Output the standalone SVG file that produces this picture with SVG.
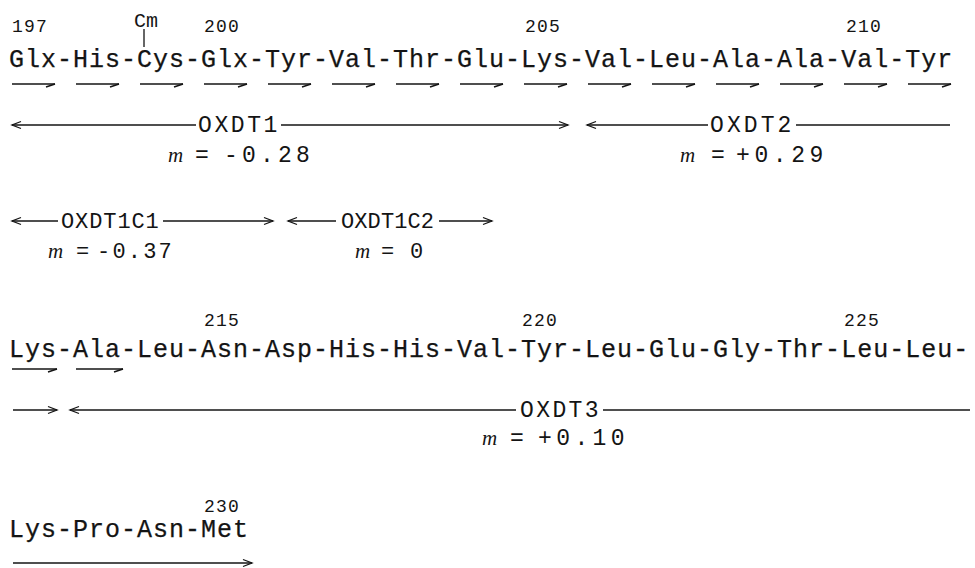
<svg xmlns="http://www.w3.org/2000/svg" width="975" height="568" viewBox="0 0 975 568">
  <defs>
    <style>
      .seq { font-family: "Liberation Mono", "DejaVu Sans Mono", monospace; font-size: 25px; letter-spacing: 1px; fill: #141414; stroke: #141414; stroke-width: 0.25; }
      .num { font-family: "Liberation Mono", "DejaVu Sans Mono", monospace; font-size: 18px; letter-spacing: 1.2px; fill: #141414; }
      .lab { font-family: "Liberation Mono", "DejaVu Sans Mono", monospace; font-size: 23px; fill: #141414; }
      .val { font-family: "Liberation Mono", "DejaVu Sans Mono", monospace; font-size: 23px; fill: #141414; }
      .mi { font-family: "Liberation Serif", "DejaVu Serif", serif; font-style: italic; font-size: 21px; fill: #141414; }
      .ln { stroke: #141414; stroke-width: 1.3; fill: none; }
      .hp { stroke: #141414; stroke-width: 1.5; fill: none; marker-end: url(#harpoon); }
      .ar { marker-end: url(#head); }
      .al { marker-start: url(#head); }
    </style>
    <!-- open arrowhead for the fragment spans -->
    <marker id="head" viewBox="-10 -5 12 10" refX="0" refY="0" markerWidth="12" markerHeight="10" markerUnits="userSpaceOnUse" orient="auto-start-reverse">
      <path d="M -9 -3.5 L 0 0 L -9 3.5" stroke="#141414" stroke-width="1.3" fill="none"/>
    </marker>
    <!-- half arrowhead for single residue steps -->
    <marker id="harpoon" viewBox="-10 -5 12 10" refX="0" refY="0" markerWidth="12" markerHeight="10" markerUnits="userSpaceOnUse" orient="auto">
      <path d="M -9 3 L 0 0" stroke="#141414" stroke-width="1.5" fill="none"/>
    </marker>
  </defs>

  <!-- residues 197-211 -->
  <g id="row1">
    <text class="num" x="12" y="32">197</text>
    <text class="num" x="204" y="32">200</text>
    <text class="num" x="525" y="32">205</text>
    <text class="num" x="846" y="32">210</text>
    <text class="num" x="134" y="27" style="font-size:20px;letter-spacing:0px">Cm</text>
    <text class="seq" x="9" y="67">Glx-His-Cys-Glx-Tyr-Val-Thr-Glu-Lys-Val-Leu-Ala-Ala-Val-Tyr</text>
  </g>

  <!-- fragment labels -->
  <g id="oxdt1">
    <text class="lab" x="198" y="132" style="letter-spacing:2.6px">OXDT1</text>
    <text class="mi" x="168" y="162">m</text>
    <text class="val" x="195" y="162">=</text>
    <text class="val" x="224" y="162" style="letter-spacing:4.2px">-0.28</text>
  </g>
  <g id="oxdt2">
    <text class="lab" x="710" y="132" style="letter-spacing:3.1px">OXDT2</text>
    <text class="mi" x="680" y="162">m</text>
    <text class="val" x="711" y="162">=</text>
    <text class="val" x="736" y="162" style="letter-spacing:4.6px">+0.29</text>
  </g>
  <g id="oxdt1c1">
    <text class="lab" x="61" y="228" style="font-size:22px;letter-spacing:0.9px">OXDT1C1</text>
    <text class="mi" x="48" y="258">m</text>
    <text class="val" x="76" y="258" style="font-size:22px">=</text>
    <text class="val" x="97" y="258" style="font-size:22px;letter-spacing:2.2px">-0.37</text>
  </g>
  <g id="oxdt1c2">
    <text class="lab" x="341" y="228" style="font-size:22px;letter-spacing:0.1px">OXDT1C2</text>
    <text class="mi" x="355" y="258">m</text>
    <text class="val" x="381" y="258" style="font-size:22px">=</text>
    <text class="val" x="410" y="258" style="font-size:22px">0</text>
  </g>

  <!-- residues 212-226 -->
  <g id="row3">
    <text class="num" x="204" y="326">215</text>
    <text class="num" x="522" y="326">220</text>
    <text class="num" x="844" y="326">225</text>
    <text class="seq" x="9" y="357">Lys-Ala-Leu-Asn-Asp-His-His-Val-Tyr-Leu-Glu-Gly-Thr-Leu-Leu-</text>
  </g>

  <g id="oxdt3">
    <text class="lab" x="520" y="417" style="letter-spacing:2.4px">OXDT3</text>
    <text class="mi" x="482" y="445">m</text>
    <text class="val" x="510" y="445">=</text>
    <text class="val" x="538" y="445" style="letter-spacing:4.4px">+0.10</text>
  </g>

  <!-- residues 227-230 -->
  <g id="row5">
    <text class="num" x="204" y="512">230</text>
    <text class="seq" x="9" y="537">Lys-Pro-Asn-Met</text>
  </g>

  <g id="connectors">
    <!-- Cm side chain bond -->
    <line class="ln" x1="144" y1="29" x2="144" y2="47"/>

    <!-- single residue steps, row 1 -->
    <path class="hp" d="M 12 84 H 55"/>
    <path class="hp" d="M 76 84 H 119"/>
    <path class="hp" d="M 140 84 H 183"/>
    <path class="hp" d="M 204 84 H 247"/>
    <path class="hp" d="M 268 84 H 311"/>
    <path class="hp" d="M 332 84 H 375"/>
    <path class="hp" d="M 396 84 H 439"/>
    <path class="hp" d="M 460 84 H 503"/>
    <path class="hp" d="M 524 84 H 567"/>
    <path class="hp" d="M 588 84 H 631"/>
    <path class="hp" d="M 652 84 H 695"/>
    <path class="hp" d="M 716 84 H 759"/>
    <path class="hp" d="M 780 84 H 823"/>
    <path class="hp" d="M 844 84 H 887"/>
    <path class="hp" d="M 908 84 H 951"/>

    <!-- single residue steps, row 3 -->
    <path class="hp" d="M 12 369 H 57"/>
    <path class="hp" d="M 76 369 H 123"/>

    <!-- OXDT1 -->
    <path class="ln al" d="M 12 125 H 196"/>
    <path class="ln ar" d="M 281 125 H 568"/>
    <!-- OXDT2 -->
    <path class="ln al" d="M 587 125 H 708"/>
    <path class="ln" d="M 796 125 H 950"/>
    <!-- OXDT1C1 -->
    <path class="ln al" d="M 12 221 H 58"/>
    <path class="ln ar" d="M 163 221 H 273"/>
    <!-- OXDT1C2 -->
    <path class="ln al" d="M 288 221 H 336"/>
    <path class="ln ar" d="M 439 221 H 492"/>
    <!-- end of OXDT2 -->
    <path class="ln ar" d="M 13 410 H 57"/>
    <!-- OXDT3 -->
    <path class="ln al" d="M 70 410 H 516"/>
    <path class="ln" d="M 603 410 H 970"/>
    <!-- end of OXDT3 -->
    <path class="ln ar" d="M 13 563 H 252"/>
  </g>
</svg>
